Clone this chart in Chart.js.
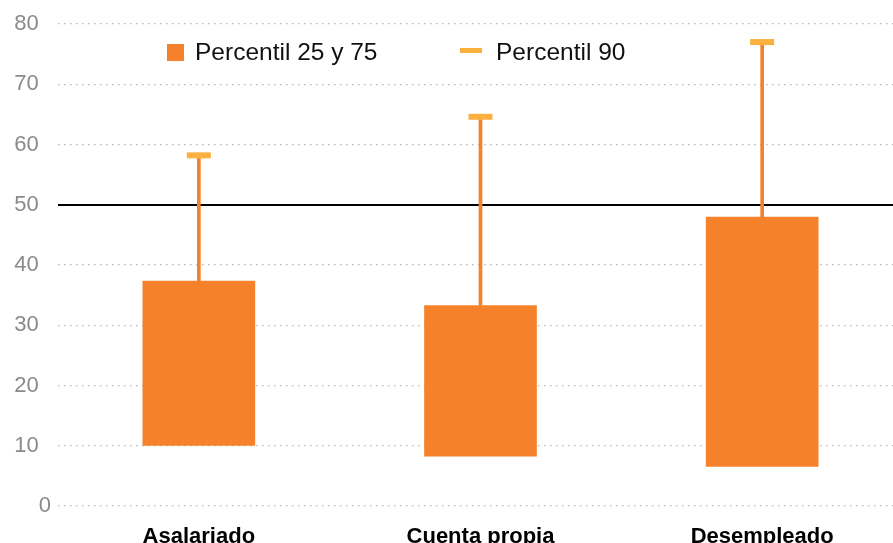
<!DOCTYPE html>
<html>
<head>
<meta charset="utf-8">
<script src="https://cdn.jsdelivr.net/npm/chart.js@4"></script>
<style>
  html, body { margin: 0; padding: 0; background: #fff; overflow: hidden; }
  #wrap { position: absolute; left: 0; top: 0; width: 903px; height: 543px; }
  .legend { position: absolute; font-family: "Liberation Sans", Arial, sans-serif; font-size: 24.5px; color: #111; line-height: 1; }
  .sw { position: absolute; }
</style>
</head>
<body>
<div id="wrap">
  <canvas id="chart" width="903" height="543"></canvas>
  <div class="sw" style="left:167px;top:44px;width:17px;height:17px;background:#f5822a"></div>
  <div class="legend" style="left:195px;top:40px">Percentil 25 y 75</div>
  <div class="sw" style="left:460px;top:48px;width:22px;height:5px;background:#fbb040"></div>
  <div class="legend" style="left:496px;top:40px">Percentil 90</div>
</div>
<script>
// datos
const categorias = ['Asalariado', 'Cuenta propia', 'Desempleado'];
const p25 = [10.0, 8.2, 6.5];
const p75 = [37.4, 33.3, 48.0];
const p90 = [58.2, 64.6, 77.0];
const yTicks = [0, 10, 20, 30, 40, 50, 60, 70, 80];

const naranja = '#f5822a';
const amarillo = '#fbb040';

new Chart(document.getElementById('chart'), {
  type: 'bar',
  data: {
    labels: categorias,
    datasets: [
      {
        label: 'Percentil 25 y 75',
        data: p25.map((v, i) => [v, p75[i]]),
        backgroundColor: naranja,
        grouped: false,
        categoryPercentage: 1,
        barPercentage: 0.4,
        order: 1
      },
      {
        label: 'bigote',
        data: p75.map((v, i) => [v, p90[i]]),
        backgroundColor: naranja,
        grouped: false,
        barThickness: 3,
        order: 2
      },
      {
        label: 'Percentil 90',
        type: 'line',
        data: p90,
        showLine: false,
        pointStyle: 'line',
        pointRadius: 12,
        pointBorderWidth: 6,
        borderColor: amarillo,
        backgroundColor: amarillo,
        order: 0
      }
    ]
  },
  options: {
    responsive: false,
    animation: false,
    layout: { autoPadding: false, padding: { top: 24, left: 0, right: 0, bottom: -17 } },
    plugins: { legend: { display: false }, tooltip: { enabled: false } },
    scales: {
      x: {
        offset: true,
        grid: { display: false },
        border: { display: false },
        ticks: {
          color: '#000',
          padding: 12,
          font: { family: '"Liberation Sans", Arial, sans-serif', size: 22, weight: 'bold', lineHeight: 1 }
        }
      },
      y: {
        min: 0,
        max: 80,
        afterFit: s => { s.width = 58; },
        afterBuildTicks: s => { s.ticks = yTicks.map(v => ({ value: v })); },
        grid: {
          drawTicks: false,
          color: ctx => ctx.tick && ctx.tick.value === 50 ? '#000' : '#b8b8b8',
          lineWidth: ctx => ctx.tick && ctx.tick.value === 50 ? 2 : 1.2
        },
        border: {
          display: false,
          dash: ctx => ctx.tick && ctx.tick.value === 50 ? [] : [1.5, 4.5]
        },
        ticks: {
          color: '#8a8a8a',
          padding: 7,
          callback: v => v === 0 ? '0' : v + '  ',
          font: { family: '"Liberation Sans", Arial, sans-serif', size: 22 }
        }
      }
    }
  }
});
</script>
</body>
</html>
